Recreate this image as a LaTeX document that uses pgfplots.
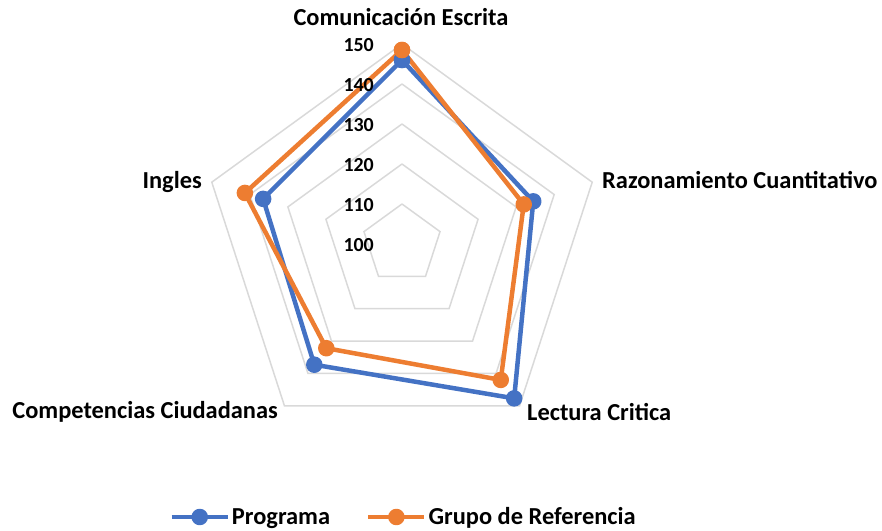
\documentclass[border=0pt]{standalone}
\usepackage{pgfplots}
\pgfplotsset{compat=1.18}
\usepackage{pgfplotstable}
\usepackage{fontspec}
\setmainfont{Carlito}
\definecolor{cblue}{HTML}{4472C4}
\definecolor{corange}{HTML}{ED7D31}
\definecolor{cgrid}{HTML}{D9D9D9}
\pgfplotstableread{
a prog ref
90 146 148.5
18 134.5 132
-54 147.7 142
-126 137.3 132.2
162 136.5 141.3
90 146 148.5
}\radardata
\begin{document}
\begin{tikzpicture}
\useasboundingbox (0,0) rectangle (882bp,531bp);
\begin{axis}[
  at={(402bp,287bp)}, anchor=origin,
  x=4bp, y=4bp,
  xmin=-100, xmax=120, ymin=-72, ymax=61,
  hide axis, clip=false,
  legend columns=2,
  legend style={at={(axis cs:0.4,-68.25)}, anchor=center, draw=none, fill=none,
    font=\bfseries\fontsize{24.5}{26}\selectfont,
    /tikz/every even column/.append style={column sep=34bp},
    nodes={inner sep=2bp},
    inner sep=0pt},
  legend image code/.code={\draw[#1, mark repeat=2, mark phase=2] plot coordinates {(0bp,0bp)(28bp,0bp)(56bp,0bp)};},
]
\addplot[cgrid, line width=1.5bp, no marks, forget plot] table[x expr={10*cos(\thisrow{a})}, y expr={10*sin(\thisrow{a})}] {\radardata};
\addplot[cgrid, line width=1.5bp, no marks, forget plot] table[x expr={20*cos(\thisrow{a})}, y expr={20*sin(\thisrow{a})}] {\radardata};
\addplot[cgrid, line width=1.5bp, no marks, forget plot] table[x expr={30*cos(\thisrow{a})}, y expr={30*sin(\thisrow{a})}] {\radardata};
\addplot[cgrid, line width=1.5bp, no marks, forget plot] table[x expr={40*cos(\thisrow{a})}, y expr={40*sin(\thisrow{a})}] {\radardata};
\addplot[cgrid, line width=1.5bp, no marks, forget plot] table[x expr={50*cos(\thisrow{a})}, y expr={50*sin(\thisrow{a})}] {\radardata};
\addplot[cblue, line width=4.5bp, mark=*, mark size=6bp, line join=round] table[x expr={(\thisrow{prog}-100)*cos(\thisrow{a})}, y expr={(\thisrow{prog}-100)*sin(\thisrow{a})}] {\radardata};
\addlegendentry{Programa}
\addplot[corange, line width=4.5bp, mark=*, mark size=6bp, line join=round] table[x expr={(\thisrow{ref}-100)*cos(\thisrow{a})}, y expr={(\thisrow{ref}-100)*sin(\thisrow{a})}] {\radardata};
\addlegendentry{Grupo de Referencia}
\begin{scope}[every node/.style={font=\bfseries\fontsize{24.5}{26}\selectfont, inner sep=0pt}]
\node[anchor=center] at (axis cs:-0.25,56.75) {Comunicación Escrita};
\node[anchor=west] at (axis cs:50,16) {Razonamiento Cuantitativo};
\node[anchor=east] at (axis cs:-50,15.5) {Ingles};
\node[anchor=east] at (axis cs:-31,-42) {Competencias Ciudadanas};
\node[anchor=west] at (axis cs:31.25,-42) {Lectura Critica};
\end{scope}
\begin{scope}[every node/.style={font=\bfseries\fontsize{20}{22}\selectfont, inner sep=0pt}]
\node[anchor=east] at (axis cs:-7,49.75) {150};
\node[anchor=east] at (axis cs:-7,39.75) {140};
\node[anchor=east] at (axis cs:-7,29.75) {130};
\node[anchor=east] at (axis cs:-7,19.75) {120};
\node[anchor=east] at (axis cs:-7,9.75) {110};
\node[anchor=east] at (axis cs:-7,-0.25) {100};
\end{scope}
\end{axis}
\end{tikzpicture}
\end{document}
